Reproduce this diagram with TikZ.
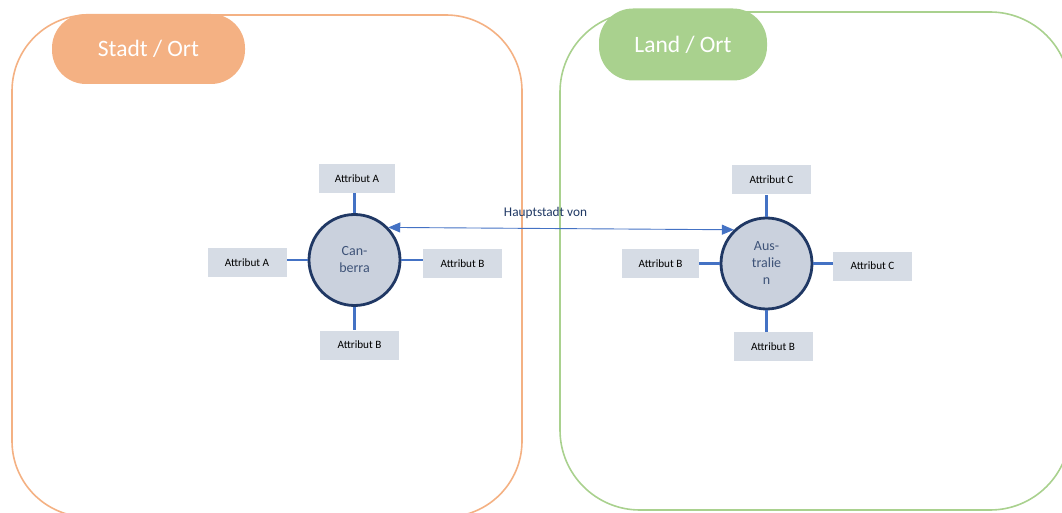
\documentclass[tikz,border=0pt]{standalone}
\usepackage{fontspec}
\setmainfont{Carlito}
\usetikzlibrary{arrows.meta}

\definecolor{orangeframe}{HTML}{F4B183}
\definecolor{greenframe}{HTML}{A9D18E}
\definecolor{entityfill}{HTML}{CAD1DD}
\definecolor{entityline}{HTML}{203864}
\definecolor{entitytext}{HTML}{3E5378}
\definecolor{attrfill}{HTML}{D6DCE5}
\definecolor{linkblue}{HTML}{4472C4}
\definecolor{labelblue}{HTML}{1F3864}

\begin{document}
\begin{tikzpicture}[x=1pt, y=1pt,
  frame/.style={line width=1.6pt, rounded corners=76pt},
  pill/.style={rectangle, rounded corners=34pt, text=white, font=\fontsize{23.5}{26}\selectfont},
  entity/.style={circle, draw=entityline, line width=2.8pt, fill=entityfill, minimum size=91pt,
    inner sep=0pt, align=center, text=entitytext, font=\fontsize{14}{17}\selectfont},
  attr/.style={rectangle, fill=attrfill, minimum width=79pt, minimum height=29pt, inner sep=0pt,
    font=\fontsize{11.2}{13}\selectfont},
  spoke/.style={draw=linkblue, line width=2.8pt}]

\useasboundingbox (0,0) rectangle (1062,512);
\clip (0,0) rectangle (1062,512);

% Rahmen
\draw[frame, draw=orangeframe] (12,-5) rectangle (522,497);
\draw[frame, draw=greenframe, rounded corners=80pt] (560,2) rectangle (1070,500);

% Titel
\node[pill, fill=orangeframe, minimum width=193pt, minimum height=70pt] (stadt) at (148.5,463) {Stadt / Ort};
\node[pill, fill=greenframe, minimum width=168pt, minimum height=72pt] (land) at (683,467.5) {Land / Ort};

% Entitaeten
\node[entity] (canberra) at (354.5,252) {Can-\\berra};
\node[entity] (australien) at (766.5,248.5) {Aus-\\tralie\\n};

% Attribute Canberra
\node[attr, minimum width=76pt] (caN) at (357,333.5) {Attribut A};
\node[attr] (caW) at (247,249.5) {Attribut A};
\node[attr] (caE) at (462.5,248.5) {Attribut B};
\node[attr] (caS) at (359.5,167) {Attribut B};

% Attribute Australien
\node[attr] (auN) at (771.5,332) {Attribut C};
\node[attr, minimum width=77pt] (auW) at (660.5,248.5) {Attribut B};
\node[attr] (auE) at (872.5,246) {Attribut C};
\node[attr] (auS) at (773,165.5) {Attribut B};

% Verbindungen
\draw[spoke] (canberra.north) -- (canberra.north |- caN.south);
\draw[spoke] (canberra.west) -- (canberra.west -| caW.east);
\draw[spoke] (canberra.east) -- (canberra.east -| caE.west);
\draw[spoke] (canberra.south) -- (canberra.south |- caS.north);
\draw[spoke] (australien.north) -- (australien.north |- auN.south);
\draw[spoke] (australien.west) -- (australien.west -| auW.east);
\draw[spoke] (australien.east) -- (australien.east -| auE.west);
\draw[spoke] (australien.south) -- (australien.south |- auS.north);

% Beziehung
\draw[{Triangle[length=12pt,width=10pt]}-{Triangle[length=12pt,width=10pt]}, linkblue, line width=0.9pt]
  (canberra.44) -- (australien.134)
  node[pos=0.455, above=6pt, text=labelblue, font=\fontsize{13.3}{15}\selectfont] (hauptstadt) {Hauptstadt von};

\end{tikzpicture}
\end{document}
